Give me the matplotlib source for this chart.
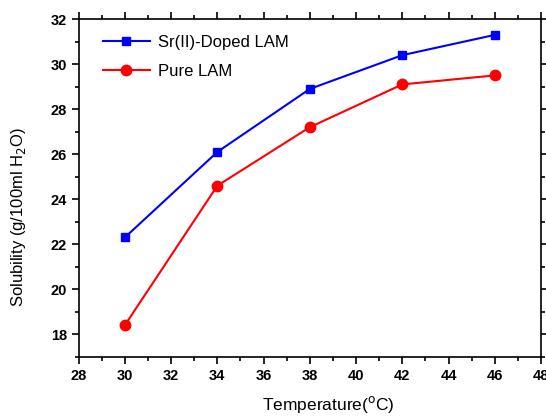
import matplotlib.pyplot as plt
from matplotlib.ticker import MultipleLocator

plt.rcParams['font.family'] = ['Liberation Sans', 'DejaVu Sans']

temperature = [30, 34, 38, 42, 46]
sr_doped = [22.3, 26.1, 28.9, 30.4, 31.3]
pure = [18.4, 24.6, 27.2, 29.1, 29.5]

fig = plt.figure(figsize=(5.46, 4.16), dpi=100)
ax = fig.add_axes([0.144, 0.1425, 0.847, 0.8115])

ax.plot(temperature, sr_doped, color='#0000ff', marker='s', markersize=6,
        linewidth=1.5, label='Sr(II)-Doped LAM')
ax.plot(temperature, pure, color='#ff0000', marker='o', markersize=7.5,
        linewidth=1.5, label='Pure LAM')

ax.set_xlim(28, 48)
ax.set_ylim(17, 32)
ax.xaxis.set_major_locator(MultipleLocator(2))
ax.xaxis.set_minor_locator(MultipleLocator(1))
ax.yaxis.set_major_locator(MultipleLocator(2))
ax.yaxis.set_minor_locator(MultipleLocator(1))

ax.tick_params(which='both', direction='out', top=True, right=True,
               labeltop=False, labelright=False, width=1.2)
ax.tick_params(which='major', length=5, labelsize=10.5)
ax.tick_params(which='minor', length=3)
for lbl in ax.get_xticklabels() + ax.get_yticklabels():
    lbl.set_fontweight('bold')
for s in ax.spines.values():
    s.set_linewidth(1.2)

ax.set_xlabel('Temperature($^{\\mathrm{o}}$C)', fontsize=12.5)
ax.xaxis.set_label_coords(0.539, -0.11)
ax.set_ylabel('Solubility (g/100ml H$_{\\mathrm{2}}$O)', fontsize=12)
ax.yaxis.set_label_coords(-0.11, 0.415)

ax.legend(loc='upper left', frameon=False, fontsize=12, handlelength=2.8,
          handletextpad=0.5, labelspacing=0.85, bbox_to_anchor=(0.02, 0.997))

fig.savefig('out.png', dpi=100)
